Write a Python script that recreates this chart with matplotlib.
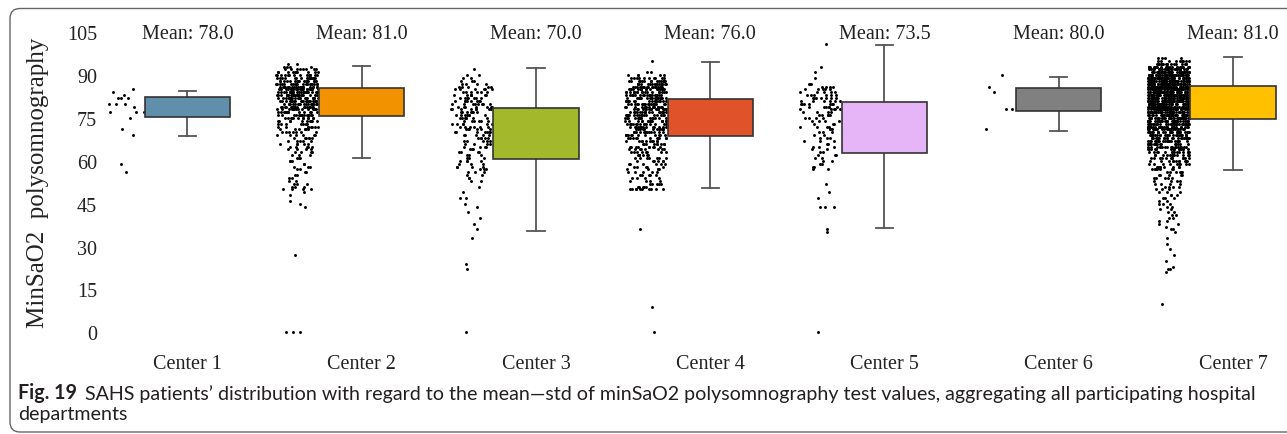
import numpy as np
import matplotlib
matplotlib.use('Agg')
import matplotlib.pyplot as plt
from matplotlib.patches import FancyBboxPatch
from matplotlib.transforms import IdentityTransform

W, H = 1287, 435

# categories and summary values
centers = ['Center 1', 'Center 2', 'Center 3', 'Center 4', 'Center 5', 'Center 6', 'Center 7']
means = [78.0, 81.0, 70.0, 76.0, 73.5, 80.0, 81.0]
box_colors = ['#5f8fab', '#f39200', '#a4b82b', '#e0532a', '#e5b5f8', '#808080', '#ffc000']

q1 = [75.2, 75.6, 60.7, 68.8, 62.8, 77.6, 74.7]
med = [78.7, 81.7, 70.6, 76.6, 74.1, 80.5, 81.7]
q3 = [82.2, 85.4, 78.5, 81.6, 80.5, 85.4, 86.3]
whis_lo = [68.6, 60.9, 35.6, 50.5, 36.5, 70.6, 56.8]
whis_hi = [84.3, 93.3, 92.4, 94.5, 100.7, 89.4, 96.2]

# patient values per center (value, estimated number of dots at that value)
c1_vals = [85, 84, 83, 82, 80, 79, 77, 75, 71, 69, 59, 56]
c1_counts = [1, 1, 1, 3, 3, 1, 3, 1, 1, 1, 1, 1]

c2_vals = [94, 93, 92, 91, 90, 89, 88, 87, 86, 85, 84, 83, 82, 81, 80, 79, 78, 77, 76, 75,
           74, 73, 72, 71, 70, 69, 68, 67, 66, 65, 64, 63, 62, 61, 60, 59, 58, 57, 56, 55,
           54, 53, 52, 51, 50, 49, 48, 46, 45, 44, 27, 0]
c2_counts = [2, 4, 8, 10, 14, 16, 18, 20, 22, 24, 24, 24, 22, 22, 20, 18, 16, 14, 14, 12,
             10, 8, 8, 7, 7, 6, 6, 5, 5, 5, 4, 4, 3, 3, 3, 2, 3, 2, 2, 2,
             2, 2, 3, 3, 4, 1, 1, 1, 1, 1, 1, 3]

c3_vals = [92, 90, 89, 88, 87, 86, 85, 84, 83, 82, 81, 80, 79, 78, 77, 76, 75, 74, 73, 72,
           71, 70, 69, 68, 67, 66, 65, 64, 63, 62, 61, 60, 59, 58, 57, 56, 55, 54, 53, 51,
           49, 47, 45, 44, 42, 40, 38, 36, 33, 24, 22, 0]
c3_counts = [1, 2, 2, 3, 4, 5, 6, 6, 7, 7, 8, 8, 7, 8, 7, 7, 7, 6, 6, 6,
             6, 7, 5, 5, 5, 4, 4, 3, 4, 3, 3, 4, 3, 4, 3, 3, 2, 2, 2, 1,
             1, 2, 1, 1, 1, 1, 1, 1, 1, 1, 1, 1]

c4_vals = [95, 91, 90, 89, 88, 87, 86, 85, 84, 83, 82, 81, 80, 79, 78, 77, 76, 75, 74, 73,
           72, 71, 70, 69, 68, 67, 66, 65, 64, 63, 62, 61, 60, 59, 58, 57, 56, 55, 54, 53,
           52, 51, 50, 36, 9, 0]
c4_counts = [1, 2, 5, 10, 14, 16, 18, 18, 18, 18, 18, 18, 18, 18, 17, 17, 16, 16, 15, 14,
             14, 13, 13, 12, 11, 10, 9, 9, 8, 8, 7, 7, 6, 6, 5, 5, 5, 5, 4, 4,
             5, 5, 10, 1, 1, 1]

c5_vals = [101, 93, 91, 89, 87, 86, 85, 84, 83, 82, 81, 80, 79, 78, 77, 76, 75, 74, 73, 72,
           71, 70, 69, 68, 67, 66, 65, 64, 63, 62, 61, 60, 59, 58, 57, 52, 49, 47, 44, 36,
           35, 0]
c5_counts = [1, 1, 1, 1, 3, 4, 5, 5, 6, 7, 6, 7, 6, 5, 4, 5, 4, 4, 3, 4,
             3, 3, 2, 3, 3, 2, 3, 2, 2, 3, 2, 2, 2, 2, 2, 1, 1, 1, 3, 1,
             1, 1]

c6_vals = [90, 86, 84, 78, 71]
c6_counts = [1, 1, 1, 2, 1]

c7_vals = [96, 95, 94, 93, 92, 91, 90, 89, 88, 87, 86, 85, 84, 83, 82, 81, 80, 79, 78, 77,
           76, 75, 74, 73, 72, 71, 70, 69, 68, 67, 66, 65, 64, 63, 62, 61, 60, 59, 58, 57,
           56, 55, 54, 53, 52, 51, 50, 49, 48, 47, 46, 45, 44, 43, 42, 41, 40, 39, 38, 37,
           36, 35, 33, 31, 29, 27, 25, 23, 22, 21, 10]
c7_counts = [4, 10, 16, 24, 30, 36, 40, 44, 46, 48, 50, 50, 50, 50, 50, 48, 46, 44, 42, 40,
             38, 36, 34, 32, 30, 28, 26, 24, 22, 20, 18, 17, 16, 14, 13, 12, 11, 9, 8, 7,
             6, 5, 5, 4, 4, 4, 3, 3, 3, 3, 2, 3, 2, 2, 2, 2, 2, 2, 2, 1,
             2, 1, 1, 1, 1, 1, 1, 1, 2, 1, 1]

strip_vals = [c1_vals, c2_vals, c3_vals, c4_vals, c5_vals, c6_vals, c7_vals]
strip_counts = [c1_counts, c2_counts, c3_counts, c4_counts, c5_counts, c6_counts, c7_counts]

plt.rcParams['font.family'] = ['Liberation Serif', 'DejaVu Serif']

fig = plt.figure(figsize=(W / 100, H / 100), dpi=100)
ax = fig.add_axes([100 / W, (H - 347.6) / H, 1180 / W, 328.6 / H])

# strip of dots to the left of each box; x jitter is deterministic and
# narrower where a value has few patients
for i, (vals, cnts) in enumerate(zip(strip_vals, strip_counts)):
    cnts = np.asarray(cnts)
    y = np.repeat(vals, cnts).astype(float)
    n_row = np.repeat(cnts, cnts)
    spread = np.clip(0.25 + 0.1 * n_row + 0.6 * n_row / cnts.max(), 0.3, 1.0)
    k = np.arange(1, len(y) + 1) + 97 * i
    u = (np.sin(k * 12.9898) * 43758.5453) % 1.0
    x = i - 0.37 + 0.12 * spread * (2 * u - 1)
    ax.scatter(x, y, s=4.5, color='black', linewidths=0, zorder=2)

stats = []
for i in range(len(centers)):
    stats.append(dict(med=med[i], q1=q1[i], q3=q3[i], whislo=whis_lo[i],
                      whishi=whis_hi[i], fliers=[], label=centers[i]))

bp = ax.bxp(stats, positions=range(len(centers)), widths=0.49, capwidths=0.1,
            patch_artist=True, showfliers=False,
            boxprops=dict(edgecolor='#333333', linewidth=1.2),
            medianprops=dict(color='#333333', linewidth=1.4),
            whiskerprops=dict(color='#555555', linewidth=1.3),
            capprops=dict(color='#555555', linewidth=1.3))
for patch, c in zip(bp['boxes'], box_colors):
    patch.set_facecolor(c)
    patch.set_zorder(3)

for i, m in enumerate(means):
    ax.text(i, 104.5, f'Mean: {m:.1f}', ha='center', va='center', fontsize=14.5, color='#222222')

ax.set_xlim(-0.502, 6.27)
ax.set_ylim(-5, 110)
ax.set_yticks(np.arange(0, 106, 15))
ax.set_xticks(range(len(centers)))
ax.set_xticklabels(centers)
ax.tick_params(axis='both', length=0, labelsize=14.5, labelcolor='#222222')
ax.tick_params(axis='y', pad=2)
ax.tick_params(axis='x', pad=5)
for sp in ax.spines.values():
    sp.set_visible(False)

fig.text(38 / W, 1 - 183 / H, 'MinSaO2  polysomnography', rotation=90,
         ha='center', va='center', fontsize=18, color='#222222')

# figure caption
cap_font = ['Lato', 'DejaVu Sans']
cap_size = 12.5
fig_lbl = fig.text(18 / W, 1 - 393 / H, 'Fig. 19', fontsize=cap_size, weight='bold',
                   family=cap_font, va='center', color='#231f20')
cap1 = ax.annotate("SAHS patients\u2019 distribution with regard to the mean\u2014std of minSaO2 "
                   "polysomnography test values, aggregating all participating hospital",
                   xy=(1, 0), xycoords=fig_lbl, xytext=(6, 0), textcoords='offset points',
                   va='bottom', fontsize=cap_size, family=cap_font, color='#231f20')
cap2 = fig.text(18 / W, 1 - 415 / H, 'departments', fontsize=cap_size, family=cap_font,
                va='center', color='#231f20')

fig.canvas.draw()
r = fig.canvas.get_renderer()
x_end = cap1.get_window_extent(r).x1
scale = (1262 - 18) / (x_end - 18)
for t in (fig_lbl, cap1, cap2):
    t.set_fontsize(cap_size * scale)

# rounded frame around the figure
frame = FancyBboxPatch((10, 2), 1300, 423.5, boxstyle='round,pad=0,rounding_size=10',
                       transform=IdentityTransform(), fill=False, edgecolor='#666666',
                       linewidth=1.0)
fig.patches.append(frame)

fig.savefig('out.png', dpi=100)
